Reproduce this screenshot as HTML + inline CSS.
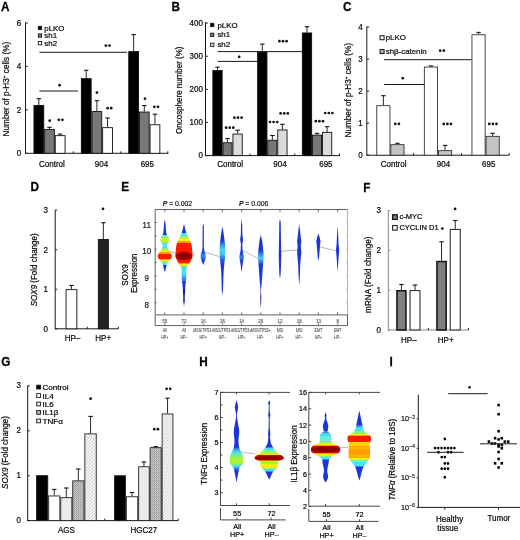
<!DOCTYPE html>
<html><head><meta charset="utf-8"><style>
html,body{margin:0;padding:0;background:#fff;}
svg{display:block;font-family:"Liberation Sans", sans-serif;will-change:transform;}
text{stroke:#111;stroke-width:0.22px;}
</style></head><body>
<svg width="520" height="540" viewBox="0 0 520 540">
<rect width="520" height="540" fill="#fff"/>
<defs>
<pattern id="dotL" width="2" height="2" patternUnits="userSpaceOnUse"><rect width="2" height="2" fill="#eeeeee"/><rect width="1" height="1" fill="#e0e0e0"/></pattern>
<pattern id="dotD" width="2" height="2" patternUnits="userSpaceOnUse"><rect width="2" height="2" fill="#c4c4c4"/><rect width="1" height="1" fill="#9a9a9a"/><rect x="1" y="1" width="1" height="1" fill="#b0b0b0"/></pattern>
<pattern id="hatch" width="2.4" height="2.4" patternUnits="userSpaceOnUse" patternTransform="rotate(45)"><rect width="2.4" height="2.4" fill="#f7f7f7"/><rect width="0.8" height="2.4" fill="#cdcdcd"/></pattern>
</defs>
<text transform="translate(0.90,10.80) scale(0.95,1)" font-size="12.4" font-weight="bold" fill="#000" style="stroke:#000;stroke-width:0.25px">A</text>
<line x1="25.50" y1="22.60" x2="25.50" y2="153.80" stroke="#1a1a1a" stroke-width="1"/>
<line x1="25.50" y1="153.30" x2="168.20" y2="153.30" stroke="#1a1a1a" stroke-width="1"/>
<line x1="25.50" y1="153.30" x2="27.80" y2="153.30" stroke="#1a1a1a" stroke-width="1"/>
<text transform="translate(21.20,156.15) scale(0.9259,1)" font-size="8.64" text-anchor="end" >0</text>
<line x1="25.50" y1="109.86" x2="27.80" y2="109.86" stroke="#1a1a1a" stroke-width="1"/>
<text transform="translate(21.20,112.71) scale(0.9259,1)" font-size="8.64" text-anchor="end" >2</text>
<line x1="25.50" y1="66.42" x2="27.80" y2="66.42" stroke="#1a1a1a" stroke-width="1"/>
<text transform="translate(21.20,69.27) scale(0.9259,1)" font-size="8.64" text-anchor="end" >4</text>
<line x1="25.50" y1="22.98" x2="27.80" y2="22.98" stroke="#1a1a1a" stroke-width="1"/>
<text transform="translate(21.20,25.83) scale(0.9259,1)" font-size="8.64" text-anchor="end" >6</text>
<line x1="73.30" y1="153.30" x2="73.30" y2="151.30" stroke="#1a1a1a" stroke-width="1"/>
<line x1="120.80" y1="153.30" x2="120.80" y2="151.30" stroke="#1a1a1a" stroke-width="1"/>
<line x1="167.80" y1="153.30" x2="167.80" y2="151.30" stroke="#1a1a1a" stroke-width="1"/>
<line x1="38.85" y1="105.00" x2="38.85" y2="98.70" stroke="#111" stroke-width="0.9"/>
<line x1="36.65" y1="98.70" x2="41.05" y2="98.70" stroke="#111" stroke-width="1.1"/>
<rect x="33.95" y="105.45" width="9.80" height="47.85" fill="#000" stroke="#111" stroke-width="0.9"/>
<line x1="49.50" y1="129.00" x2="49.50" y2="127.30" stroke="#111" stroke-width="0.9"/>
<line x1="47.30" y1="127.30" x2="51.70" y2="127.30" stroke="#111" stroke-width="1.1"/>
<rect x="44.65" y="129.45" width="9.70" height="23.85" fill="#787878" stroke="#111" stroke-width="0.9"/>
<line x1="60.15" y1="135.20" x2="60.15" y2="134.10" stroke="#111" stroke-width="0.9"/>
<line x1="57.95" y1="134.10" x2="62.35" y2="134.10" stroke="#111" stroke-width="1.1"/>
<rect x="55.25" y="135.65" width="9.80" height="17.65" fill="#fff" stroke="#111" stroke-width="0.9"/>
<line x1="86.25" y1="78.20" x2="86.25" y2="70.30" stroke="#111" stroke-width="0.9"/>
<line x1="84.05" y1="70.30" x2="88.45" y2="70.30" stroke="#111" stroke-width="1.1"/>
<rect x="81.35" y="78.65" width="9.80" height="74.65" fill="#000" stroke="#111" stroke-width="0.9"/>
<line x1="96.90" y1="111.10" x2="96.90" y2="100.70" stroke="#111" stroke-width="0.9"/>
<line x1="94.70" y1="100.70" x2="99.10" y2="100.70" stroke="#111" stroke-width="1.1"/>
<rect x="92.05" y="111.55" width="9.70" height="41.75" fill="#787878" stroke="#111" stroke-width="0.9"/>
<line x1="107.55" y1="127.20" x2="107.55" y2="118.00" stroke="#111" stroke-width="0.9"/>
<line x1="105.35" y1="118.00" x2="109.75" y2="118.00" stroke="#111" stroke-width="1.1"/>
<rect x="102.65" y="127.65" width="9.80" height="25.65" fill="#fff" stroke="#111" stroke-width="0.9"/>
<line x1="133.65" y1="51.10" x2="133.65" y2="34.60" stroke="#111" stroke-width="0.9"/>
<line x1="131.45" y1="34.60" x2="135.85" y2="34.60" stroke="#111" stroke-width="1.1"/>
<rect x="128.75" y="51.55" width="9.80" height="101.75" fill="#000" stroke="#111" stroke-width="0.9"/>
<line x1="144.30" y1="111.60" x2="144.30" y2="105.60" stroke="#111" stroke-width="0.9"/>
<line x1="142.10" y1="105.60" x2="146.50" y2="105.60" stroke="#111" stroke-width="1.1"/>
<rect x="139.45" y="112.05" width="9.70" height="41.25" fill="#787878" stroke="#111" stroke-width="0.9"/>
<line x1="154.95" y1="124.30" x2="154.95" y2="114.20" stroke="#111" stroke-width="0.9"/>
<line x1="152.75" y1="114.20" x2="157.15" y2="114.20" stroke="#111" stroke-width="1.1"/>
<rect x="150.05" y="124.75" width="9.80" height="28.55" fill="#fff" stroke="#111" stroke-width="0.9"/>
<text transform="translate(51.90,166.90) scale(0.9259,1)" font-size="8.64" text-anchor="middle" >Control</text>
<text transform="translate(101.50,166.90) scale(0.9259,1)" font-size="8.64" text-anchor="middle" >904</text>
<text transform="translate(147.30,166.90) scale(0.9259,1)" font-size="8.64" text-anchor="middle" >695</text>
<rect x="38.30" y="26.30" width="3.30" height="3.30" fill="#000" stroke="#1a1a1a" stroke-width="0.9"/>
<text transform="translate(44.30,30.50) scale(1.0000,1)" font-size="7.90" text-anchor="start" >pLKO</text>
<rect x="38.30" y="33.90" width="3.30" height="3.30" fill="#787878" stroke="#1a1a1a" stroke-width="0.9"/>
<text transform="translate(44.30,38.10) scale(1.0000,1)" font-size="7.90" text-anchor="start" >sh1</text>
<rect x="38.30" y="41.50" width="3.30" height="3.30" fill="#fff" stroke="#1a1a1a" stroke-width="0.9"/>
<text transform="translate(44.30,45.70) scale(1.0000,1)" font-size="7.90" text-anchor="start" >sh2</text>
<line x1="39.40" y1="52.30" x2="126.90" y2="52.30" stroke="#1a1a1a" stroke-width="1"/>
<circle cx="105.90" cy="45.60" r="1.35" fill="#111"/>
<circle cx="109.50" cy="45.60" r="1.35" fill="#111"/>
<line x1="39.40" y1="91.00" x2="77.90" y2="91.00" stroke="#1a1a1a" stroke-width="1"/>
<circle cx="59.60" cy="85.20" r="1.35" fill="#111"/>
<circle cx="49.70" cy="120.70" r="1.35" fill="#111"/>
<circle cx="58.80" cy="119.80" r="1.35" fill="#111"/>
<circle cx="62.40" cy="119.80" r="1.35" fill="#111"/>
<circle cx="96.90" cy="92.60" r="1.35" fill="#111"/>
<circle cx="107.60" cy="108.20" r="1.35" fill="#111"/>
<circle cx="111.20" cy="108.20" r="1.35" fill="#111"/>
<circle cx="145.00" cy="98.70" r="1.35" fill="#111"/>
<circle cx="154.40" cy="106.80" r="1.35" fill="#111"/>
<circle cx="158.00" cy="106.80" r="1.35" fill="#111"/>
<text transform="translate(8.60,89.10) rotate(-90) scale(0.9259,1)" font-size="8.86" text-anchor="middle" >Number of p-H3<tspan font-size="5" dy="-2.6">+</tspan><tspan dy="2.6"> cells (%)</tspan></text>
<text transform="translate(171.44,10.60) scale(0.95,1)" font-size="12.4" font-weight="bold" fill="#000" style="stroke:#000;stroke-width:0.25px">B</text>
<line x1="205.50" y1="22.10" x2="205.50" y2="156.10" stroke="#1a1a1a" stroke-width="1"/>
<line x1="205.50" y1="155.60" x2="340.00" y2="155.60" stroke="#1a1a1a" stroke-width="1"/>
<line x1="205.50" y1="155.60" x2="207.80" y2="155.60" stroke="#1a1a1a" stroke-width="1"/>
<text transform="translate(202.90,158.45) scale(0.9259,1)" font-size="8.64" text-anchor="end" >0</text>
<line x1="205.50" y1="122.47" x2="207.80" y2="122.47" stroke="#1a1a1a" stroke-width="1"/>
<text transform="translate(202.90,125.32) scale(0.9259,1)" font-size="8.64" text-anchor="end" >100</text>
<line x1="205.50" y1="89.34" x2="207.80" y2="89.34" stroke="#1a1a1a" stroke-width="1"/>
<text transform="translate(202.90,92.19) scale(0.9259,1)" font-size="8.64" text-anchor="end" >200</text>
<line x1="205.50" y1="56.21" x2="207.80" y2="56.21" stroke="#1a1a1a" stroke-width="1"/>
<text transform="translate(202.90,59.06) scale(0.9259,1)" font-size="8.64" text-anchor="end" >300</text>
<line x1="205.50" y1="23.08" x2="207.80" y2="23.08" stroke="#1a1a1a" stroke-width="1"/>
<text transform="translate(202.90,25.93) scale(0.9259,1)" font-size="8.64" text-anchor="end" >400</text>
<line x1="250.00" y1="155.60" x2="250.00" y2="153.60" stroke="#1a1a1a" stroke-width="1"/>
<line x1="294.70" y1="155.60" x2="294.70" y2="153.60" stroke="#1a1a1a" stroke-width="1"/>
<line x1="339.50" y1="155.60" x2="339.50" y2="153.60" stroke="#1a1a1a" stroke-width="1"/>
<line x1="217.50" y1="70.10" x2="217.50" y2="67.20" stroke="#111" stroke-width="0.9"/>
<line x1="215.30" y1="67.20" x2="219.70" y2="67.20" stroke="#111" stroke-width="1.1"/>
<rect x="212.85" y="70.55" width="9.30" height="85.05" fill="#000" stroke="#111" stroke-width="0.9"/>
<line x1="227.55" y1="142.30" x2="227.55" y2="138.50" stroke="#111" stroke-width="0.9"/>
<line x1="225.35" y1="138.50" x2="229.75" y2="138.50" stroke="#111" stroke-width="1.1"/>
<rect x="223.05" y="142.75" width="9.00" height="12.85" fill="#777" stroke="#111" stroke-width="0.9"/>
<line x1="237.60" y1="133.60" x2="237.60" y2="130.20" stroke="#111" stroke-width="0.9"/>
<line x1="235.40" y1="130.20" x2="239.80" y2="130.20" stroke="#111" stroke-width="1.1"/>
<rect x="232.95" y="134.05" width="9.30" height="21.55" fill="#dcdcdc" stroke="#111" stroke-width="0.9"/>
<line x1="262.30" y1="51.60" x2="262.30" y2="44.10" stroke="#111" stroke-width="0.9"/>
<line x1="260.10" y1="44.10" x2="264.50" y2="44.10" stroke="#111" stroke-width="1.1"/>
<rect x="257.65" y="52.05" width="9.30" height="103.55" fill="#000" stroke="#111" stroke-width="0.9"/>
<line x1="272.35" y1="139.80" x2="272.35" y2="135.50" stroke="#111" stroke-width="0.9"/>
<line x1="270.15" y1="135.50" x2="274.55" y2="135.50" stroke="#111" stroke-width="1.1"/>
<rect x="267.85" y="140.25" width="9.00" height="15.35" fill="#777" stroke="#111" stroke-width="0.9"/>
<line x1="282.40" y1="129.50" x2="282.40" y2="124.30" stroke="#111" stroke-width="0.9"/>
<line x1="280.20" y1="124.30" x2="284.60" y2="124.30" stroke="#111" stroke-width="1.1"/>
<rect x="277.75" y="129.95" width="9.30" height="25.65" fill="#dcdcdc" stroke="#111" stroke-width="0.9"/>
<line x1="307.00" y1="32.50" x2="307.00" y2="26.80" stroke="#111" stroke-width="0.9"/>
<line x1="304.80" y1="26.80" x2="309.20" y2="26.80" stroke="#111" stroke-width="1.1"/>
<rect x="302.35" y="32.95" width="9.30" height="122.65" fill="#000" stroke="#111" stroke-width="0.9"/>
<line x1="317.05" y1="134.70" x2="317.05" y2="133.30" stroke="#111" stroke-width="0.9"/>
<line x1="314.85" y1="133.30" x2="319.25" y2="133.30" stroke="#111" stroke-width="1.1"/>
<rect x="312.55" y="135.15" width="9.00" height="20.45" fill="#777" stroke="#111" stroke-width="0.9"/>
<line x1="327.10" y1="131.90" x2="327.10" y2="126.70" stroke="#111" stroke-width="0.9"/>
<line x1="324.90" y1="126.70" x2="329.30" y2="126.70" stroke="#111" stroke-width="1.1"/>
<rect x="322.45" y="132.35" width="9.30" height="23.25" fill="#dcdcdc" stroke="#111" stroke-width="0.9"/>
<text transform="translate(230.10,167.10) scale(0.9259,1)" font-size="8.64" text-anchor="middle" >Control</text>
<text transform="translate(280.00,167.10) scale(0.9259,1)" font-size="8.64" text-anchor="middle" >904</text>
<text transform="translate(325.90,167.10) scale(0.9259,1)" font-size="8.64" text-anchor="middle" >695</text>
<rect x="210.60" y="23.30" width="3.30" height="3.30" fill="#000" stroke="#1a1a1a" stroke-width="0.9"/>
<text transform="translate(217.40,27.50) scale(1.0000,1)" font-size="7.90" text-anchor="start" >pLKO</text>
<rect x="210.60" y="33.20" width="3.30" height="3.30" fill="#777" stroke="#1a1a1a" stroke-width="0.9"/>
<text transform="translate(217.40,37.40) scale(1.0000,1)" font-size="7.90" text-anchor="start" >sh1</text>
<rect x="210.60" y="43.10" width="3.30" height="3.30" fill="#dcdcdc" stroke="#1a1a1a" stroke-width="0.9"/>
<text transform="translate(217.40,47.30) scale(1.0000,1)" font-size="7.90" text-anchor="start" >sh2</text>
<line x1="217.60" y1="51.60" x2="301.90" y2="51.60" stroke="#1a1a1a" stroke-width="1"/>
<circle cx="279.40" cy="41.20" r="1.35" fill="#111"/>
<circle cx="283.00" cy="41.20" r="1.35" fill="#111"/>
<circle cx="286.60" cy="41.20" r="1.35" fill="#111"/>
<line x1="217.60" y1="61.40" x2="257.40" y2="61.40" stroke="#1a1a1a" stroke-width="1"/>
<circle cx="239.20" cy="56.80" r="1.35" fill="#111"/>
<circle cx="226.10" cy="127.70" r="1.35" fill="#111"/>
<circle cx="229.70" cy="127.70" r="1.35" fill="#111"/>
<circle cx="233.30" cy="127.70" r="1.35" fill="#111"/>
<circle cx="234.40" cy="117.70" r="1.35" fill="#111"/>
<circle cx="238.00" cy="117.70" r="1.35" fill="#111"/>
<circle cx="241.60" cy="117.70" r="1.35" fill="#111"/>
<circle cx="270.00" cy="122.00" r="1.35" fill="#111"/>
<circle cx="273.60" cy="122.00" r="1.35" fill="#111"/>
<circle cx="277.20" cy="122.00" r="1.35" fill="#111"/>
<circle cx="280.60" cy="113.40" r="1.35" fill="#111"/>
<circle cx="284.20" cy="113.40" r="1.35" fill="#111"/>
<circle cx="287.80" cy="113.40" r="1.35" fill="#111"/>
<circle cx="315.80" cy="121.20" r="1.35" fill="#111"/>
<circle cx="319.40" cy="121.20" r="1.35" fill="#111"/>
<circle cx="323.00" cy="121.20" r="1.35" fill="#111"/>
<circle cx="325.20" cy="113.00" r="1.35" fill="#111"/>
<circle cx="328.80" cy="113.00" r="1.35" fill="#111"/>
<circle cx="332.40" cy="113.00" r="1.35" fill="#111"/>
<text transform="translate(182.30,90.20) rotate(-90) scale(0.9259,1)" font-size="8.64" text-anchor="middle" >Oncosphere number (%)</text>
<text transform="translate(343.07,10.80) scale(0.95,1)" font-size="12.4" font-weight="bold" fill="#000" style="stroke:#000;stroke-width:0.25px">C</text>
<line x1="366.80" y1="26.60" x2="366.80" y2="155.70" stroke="#1a1a1a" stroke-width="1"/>
<line x1="366.80" y1="155.20" x2="509.30" y2="155.20" stroke="#1a1a1a" stroke-width="1"/>
<line x1="366.80" y1="155.20" x2="369.10" y2="155.20" stroke="#1a1a1a" stroke-width="1"/>
<text transform="translate(362.80,158.05) scale(0.9259,1)" font-size="8.64" text-anchor="end" >0</text>
<line x1="366.80" y1="123.15" x2="369.10" y2="123.15" stroke="#1a1a1a" stroke-width="1"/>
<text transform="translate(362.80,126.00) scale(0.9259,1)" font-size="8.64" text-anchor="end" >1</text>
<line x1="366.80" y1="91.10" x2="369.10" y2="91.10" stroke="#1a1a1a" stroke-width="1"/>
<text transform="translate(362.80,93.95) scale(0.9259,1)" font-size="8.64" text-anchor="end" >2</text>
<line x1="366.80" y1="59.05" x2="369.10" y2="59.05" stroke="#1a1a1a" stroke-width="1"/>
<text transform="translate(362.80,61.90) scale(0.9259,1)" font-size="8.64" text-anchor="end" >3</text>
<line x1="366.80" y1="27.00" x2="369.10" y2="27.00" stroke="#1a1a1a" stroke-width="1"/>
<text transform="translate(362.80,29.85) scale(0.9259,1)" font-size="8.64" text-anchor="end" >4</text>
<line x1="413.60" y1="155.20" x2="413.60" y2="153.20" stroke="#1a1a1a" stroke-width="1"/>
<line x1="461.50" y1="155.20" x2="461.50" y2="153.20" stroke="#1a1a1a" stroke-width="1"/>
<line x1="509.30" y1="155.20" x2="509.30" y2="153.20" stroke="#1a1a1a" stroke-width="1"/>
<line x1="383.35" y1="105.20" x2="383.35" y2="95.70" stroke="#111" stroke-width="0.9"/>
<line x1="381.15" y1="95.70" x2="385.55" y2="95.70" stroke="#111" stroke-width="1.1"/>
<rect x="376.75" y="105.65" width="13.20" height="49.55" fill="#fff" stroke="#333" stroke-width="0.9"/>
<line x1="397.45" y1="144.20" x2="397.45" y2="143.30" stroke="#111" stroke-width="0.9"/>
<line x1="395.25" y1="143.30" x2="399.65" y2="143.30" stroke="#111" stroke-width="1.1"/>
<rect x="390.85" y="144.65" width="13.20" height="10.55" fill="#c4c4c4" stroke="#333" stroke-width="0.9"/>
<line x1="430.95" y1="66.60" x2="430.95" y2="65.90" stroke="#111" stroke-width="0.9"/>
<line x1="428.75" y1="65.90" x2="433.15" y2="65.90" stroke="#111" stroke-width="1.1"/>
<rect x="424.35" y="67.05" width="13.20" height="88.15" fill="#fff" stroke="#333" stroke-width="0.9"/>
<line x1="445.05" y1="150.20" x2="445.05" y2="145.40" stroke="#111" stroke-width="0.9"/>
<line x1="442.85" y1="145.40" x2="447.25" y2="145.40" stroke="#111" stroke-width="1.1"/>
<rect x="438.45" y="150.65" width="13.20" height="4.55" fill="#c4c4c4" stroke="#333" stroke-width="0.9"/>
<line x1="478.55" y1="34.30" x2="478.55" y2="32.40" stroke="#111" stroke-width="0.9"/>
<line x1="476.35" y1="32.40" x2="480.75" y2="32.40" stroke="#111" stroke-width="1.1"/>
<rect x="471.95" y="34.75" width="13.20" height="120.45" fill="#fff" stroke="#333" stroke-width="0.9"/>
<line x1="492.65" y1="135.90" x2="492.65" y2="133.30" stroke="#111" stroke-width="0.9"/>
<line x1="490.45" y1="133.30" x2="494.85" y2="133.30" stroke="#111" stroke-width="1.1"/>
<rect x="486.05" y="136.35" width="13.20" height="18.85" fill="#c4c4c4" stroke="#333" stroke-width="0.9"/>
<text transform="translate(393.60,167.00) scale(0.9259,1)" font-size="8.64" text-anchor="middle" >Control</text>
<text transform="translate(443.50,167.00) scale(0.9259,1)" font-size="8.64" text-anchor="middle" >904</text>
<text transform="translate(488.70,167.00) scale(0.9259,1)" font-size="8.64" text-anchor="middle" >695</text>
<rect x="380.10" y="35.70" width="4.00" height="4.00" fill="#fff" stroke="#222" stroke-width="1.1"/>
<text transform="translate(385.70,40.30) scale(1.0000,1)" font-size="7.90" text-anchor="start" >pLKO</text>
<rect x="380.10" y="49.50" width="4.00" height="4.00" fill="#b8b8b8" stroke="#222" stroke-width="1.1"/>
<text transform="translate(385.70,54.10) scale(1.0000,1)" font-size="7.90" text-anchor="start" >sh&#946;-catenin</text>
<line x1="384.10" y1="59.70" x2="471.50" y2="59.70" stroke="#1a1a1a" stroke-width="1"/>
<circle cx="440.20" cy="50.70" r="1.35" fill="#111"/>
<circle cx="443.80" cy="50.70" r="1.35" fill="#111"/>
<line x1="384.10" y1="84.50" x2="424.30" y2="84.50" stroke="#1a1a1a" stroke-width="1"/>
<circle cx="402.70" cy="78.20" r="1.35" fill="#111"/>
<circle cx="395.30" cy="123.90" r="1.35" fill="#111"/>
<circle cx="398.90" cy="123.90" r="1.35" fill="#111"/>
<circle cx="443.80" cy="123.90" r="1.35" fill="#111"/>
<circle cx="447.40" cy="123.90" r="1.35" fill="#111"/>
<circle cx="451.00" cy="123.90" r="1.35" fill="#111"/>
<circle cx="489.30" cy="123.90" r="1.35" fill="#111"/>
<circle cx="492.90" cy="123.90" r="1.35" fill="#111"/>
<circle cx="496.50" cy="123.90" r="1.35" fill="#111"/>
<text transform="translate(350.80,90.20) rotate(-90) scale(0.9259,1)" font-size="8.86" text-anchor="middle" >Number of p-H3<tspan font-size="5" dy="-2.6">+</tspan><tspan dy="2.6"> cells (%)</tspan></text>
<text transform="translate(30.44,191.30) scale(0.95,1)" font-size="12.4" font-weight="bold" fill="#000" style="stroke:#000;stroke-width:0.25px">D</text>
<line x1="55.20" y1="209.90" x2="55.20" y2="329.30" stroke="#1a1a1a" stroke-width="1"/>
<line x1="55.20" y1="328.80" x2="118.50" y2="328.80" stroke="#1a1a1a" stroke-width="1"/>
<line x1="55.20" y1="328.80" x2="57.20" y2="328.80" stroke="#1a1a1a" stroke-width="1"/>
<text transform="translate(48.00,331.65) scale(0.9259,1)" font-size="8.64" text-anchor="end" >0</text>
<line x1="55.20" y1="289.25" x2="57.20" y2="289.25" stroke="#1a1a1a" stroke-width="1"/>
<text transform="translate(48.00,292.10) scale(0.9259,1)" font-size="8.64" text-anchor="end" >1</text>
<line x1="55.20" y1="249.70" x2="57.20" y2="249.70" stroke="#1a1a1a" stroke-width="1"/>
<text transform="translate(48.00,252.55) scale(0.9259,1)" font-size="8.64" text-anchor="end" >2</text>
<line x1="55.20" y1="210.15" x2="57.20" y2="210.15" stroke="#1a1a1a" stroke-width="1"/>
<text transform="translate(48.00,213.00) scale(0.9259,1)" font-size="8.64" text-anchor="end" >3</text>
<line x1="87.30" y1="328.80" x2="87.30" y2="326.80" stroke="#1a1a1a" stroke-width="1"/>
<line x1="118.40" y1="328.80" x2="118.40" y2="326.80" stroke="#1a1a1a" stroke-width="1"/>
<line x1="71.45" y1="289.20" x2="71.45" y2="285.40" stroke="#111" stroke-width="0.9"/>
<line x1="69.25" y1="285.40" x2="73.65" y2="285.40" stroke="#111" stroke-width="1.1"/>
<rect x="66.05" y="289.65" width="10.80" height="39.15" fill="#fff" stroke="#111" stroke-width="0.9"/>
<line x1="103.35" y1="239.00" x2="103.35" y2="222.70" stroke="#111" stroke-width="0.9"/>
<line x1="101.15" y1="222.70" x2="105.55" y2="222.70" stroke="#111" stroke-width="1.1"/>
<rect x="98.35" y="239.45" width="10.00" height="89.35" fill="#222" stroke="#111" stroke-width="0.9"/>
<circle cx="103.00" cy="208.80" r="1.35" fill="#111"/>
<text transform="translate(72.50,340.90) scale(0.9259,1)" font-size="8.64" text-anchor="middle" >HP&#8211;</text>
<text transform="translate(103.20,340.90) scale(0.9259,1)" font-size="8.64" text-anchor="middle" >HP+</text>
<text transform="translate(37.00,269.80) rotate(-90) scale(0.9259,1)" font-size="8.64" text-anchor="middle" ><tspan font-style="italic">SOX9</tspan> (Fold change)</text>
<text transform="translate(363.34,191.60) scale(0.95,1)" font-size="12.4" font-weight="bold" fill="#000" style="stroke:#000;stroke-width:0.25px">F</text>
<line x1="388.30" y1="209.90" x2="388.30" y2="330.50" stroke="#8a8a8a" stroke-width="1"/>
<line x1="388.30" y1="330.00" x2="468.50" y2="330.00" stroke="#8a8a8a" stroke-width="1"/>
<line x1="388.30" y1="330.00" x2="390.30" y2="330.00" stroke="#8a8a8a" stroke-width="1"/>
<text transform="translate(381.00,332.85) scale(0.9259,1)" font-size="8.64" text-anchor="end" >0</text>
<line x1="388.30" y1="290.20" x2="390.30" y2="290.20" stroke="#8a8a8a" stroke-width="1"/>
<text transform="translate(381.00,293.05) scale(0.9259,1)" font-size="8.64" text-anchor="end" >1</text>
<line x1="388.30" y1="250.40" x2="390.30" y2="250.40" stroke="#8a8a8a" stroke-width="1"/>
<text transform="translate(381.00,253.25) scale(0.9259,1)" font-size="8.64" text-anchor="end" >2</text>
<line x1="388.30" y1="210.60" x2="390.30" y2="210.60" stroke="#8a8a8a" stroke-width="1"/>
<text transform="translate(381.00,213.45) scale(0.9259,1)" font-size="8.64" text-anchor="end" >3</text>
<line x1="428.30" y1="330.00" x2="428.30" y2="328.00" stroke="#1a1a1a" stroke-width="1"/>
<line x1="468.40" y1="330.00" x2="468.40" y2="328.00" stroke="#1a1a1a" stroke-width="1"/>
<line x1="401.45" y1="290.00" x2="401.45" y2="284.50" stroke="#111" stroke-width="0.9"/>
<line x1="399.25" y1="284.50" x2="403.65" y2="284.50" stroke="#111" stroke-width="1.1"/>
<rect x="396.95" y="290.75" width="9.00" height="39.25" fill="#808080" stroke="#111" stroke-width="1.5"/>
<line x1="415.00" y1="290.00" x2="415.00" y2="285.00" stroke="#111" stroke-width="0.9"/>
<line x1="412.80" y1="285.00" x2="417.20" y2="285.00" stroke="#111" stroke-width="1.1"/>
<rect x="410.05" y="290.55" width="9.90" height="39.45" fill="#fff" stroke="#333" stroke-width="1.1"/>
<line x1="441.55" y1="260.80" x2="441.55" y2="241.80" stroke="#111" stroke-width="0.9"/>
<line x1="439.35" y1="241.80" x2="443.75" y2="241.80" stroke="#111" stroke-width="1.1"/>
<rect x="436.95" y="261.55" width="9.20" height="68.45" fill="#808080" stroke="#111" stroke-width="1.5"/>
<line x1="455.25" y1="228.90" x2="455.25" y2="220.50" stroke="#111" stroke-width="0.9"/>
<line x1="453.05" y1="220.50" x2="457.45" y2="220.50" stroke="#111" stroke-width="1.1"/>
<rect x="450.25" y="229.45" width="10.00" height="100.55" fill="#fff" stroke="#333" stroke-width="1.1"/>
<circle cx="442.30" cy="228.50" r="1.35" fill="#111"/>
<circle cx="455.10" cy="208.90" r="1.35" fill="#111"/>
<rect x="392.60" y="214.80" width="4.60" height="4.60" fill="#808080" stroke="#111" stroke-width="1.3"/>
<rect x="392.60" y="225.50" width="4.60" height="4.60" fill="#fff" stroke="#222" stroke-width="1.1"/>
<text transform="translate(399.40,219.10) scale(1.0000,1)" font-size="7.50" text-anchor="start" >c-MYC</text>
<text transform="translate(399.40,230.10) scale(1.0000,1)" font-size="7.50" text-anchor="start" >CYCLIN D1</text>
<text transform="translate(408.80,343.30) scale(0.9259,1)" font-size="8.64" text-anchor="middle" >HP&#8211;</text>
<text transform="translate(445.70,343.30) scale(0.9259,1)" font-size="8.64" text-anchor="middle" >HP+</text>
<text transform="translate(371.00,274.70) rotate(-90) scale(0.9259,1)" font-size="8.86" text-anchor="middle" >mRNA (Fold change)</text>
<text transform="translate(1.28,366.00) scale(0.95,1)" font-size="12.4" font-weight="bold" fill="#000" style="stroke:#000;stroke-width:0.25px">G</text>
<line x1="27.70" y1="385.50" x2="27.70" y2="521.10" stroke="#1a1a1a" stroke-width="1"/>
<line x1="27.70" y1="520.60" x2="178.30" y2="520.60" stroke="#1a1a1a" stroke-width="1"/>
<line x1="27.70" y1="520.60" x2="29.70" y2="520.60" stroke="#1a1a1a" stroke-width="1"/>
<text transform="translate(21.00,522.70) scale(0.9259,1)" font-size="8.64" text-anchor="end" >0</text>
<line x1="27.70" y1="475.70" x2="29.70" y2="475.70" stroke="#1a1a1a" stroke-width="1"/>
<text transform="translate(21.00,477.80) scale(0.9259,1)" font-size="8.64" text-anchor="end" >1</text>
<line x1="27.70" y1="430.80" x2="29.70" y2="430.80" stroke="#1a1a1a" stroke-width="1"/>
<text transform="translate(21.00,432.90) scale(0.9259,1)" font-size="8.64" text-anchor="end" >2</text>
<line x1="27.70" y1="385.90" x2="29.70" y2="385.90" stroke="#1a1a1a" stroke-width="1"/>
<text transform="translate(21.00,388.00) scale(0.9259,1)" font-size="8.64" text-anchor="end" >3</text>
<line x1="104.80" y1="520.60" x2="104.80" y2="518.60" stroke="#1a1a1a" stroke-width="1"/>
<line x1="178.20" y1="520.60" x2="178.20" y2="518.60" stroke="#1a1a1a" stroke-width="1"/>
<rect x="36.55" y="475.65" width="11.20" height="44.95" fill="#000" stroke="#222" stroke-width="0.9"/>
<line x1="54.25" y1="495.50" x2="54.25" y2="489.40" stroke="#111" stroke-width="0.9"/>
<line x1="52.05" y1="489.40" x2="56.45" y2="489.40" stroke="#111" stroke-width="1.1"/>
<rect x="48.65" y="495.95" width="11.20" height="24.65" fill="#fff" stroke="#222" stroke-width="0.9"/>
<line x1="66.30" y1="497.20" x2="66.30" y2="488.00" stroke="#111" stroke-width="0.9"/>
<line x1="64.10" y1="488.00" x2="68.50" y2="488.00" stroke="#111" stroke-width="1.1"/>
<rect x="60.75" y="497.65" width="11.10" height="22.95" fill="url(#dotL)" stroke="#222" stroke-width="0.9"/>
<line x1="78.35" y1="480.40" x2="78.35" y2="469.00" stroke="#111" stroke-width="0.9"/>
<line x1="76.15" y1="469.00" x2="80.55" y2="469.00" stroke="#111" stroke-width="1.1"/>
<rect x="72.75" y="480.85" width="11.20" height="39.75" fill="url(#dotD)" stroke="#222" stroke-width="0.9"/>
<line x1="90.55" y1="433.40" x2="90.55" y2="416.40" stroke="#111" stroke-width="0.9"/>
<line x1="88.35" y1="416.40" x2="92.75" y2="416.40" stroke="#111" stroke-width="1.1"/>
<rect x="84.85" y="433.85" width="11.40" height="86.75" fill="url(#hatch)" stroke="#222" stroke-width="0.9"/>
<rect x="114.55" y="475.75" width="10.90" height="44.85" fill="#000" stroke="#222" stroke-width="0.9"/>
<line x1="132.05" y1="496.30" x2="132.05" y2="492.50" stroke="#111" stroke-width="0.9"/>
<line x1="129.85" y1="492.50" x2="134.25" y2="492.50" stroke="#111" stroke-width="1.1"/>
<rect x="126.35" y="496.75" width="11.40" height="23.85" fill="#fff" stroke="#222" stroke-width="0.9"/>
<line x1="143.95" y1="466.30" x2="143.95" y2="462.00" stroke="#111" stroke-width="0.9"/>
<line x1="141.75" y1="462.00" x2="146.15" y2="462.00" stroke="#111" stroke-width="1.1"/>
<rect x="138.65" y="466.75" width="10.60" height="53.85" fill="url(#dotL)" stroke="#222" stroke-width="0.9"/>
<line x1="155.70" y1="447.20" x2="155.70" y2="446.60" stroke="#111" stroke-width="0.9"/>
<line x1="153.50" y1="446.60" x2="157.90" y2="446.60" stroke="#111" stroke-width="1.1"/>
<rect x="150.15" y="447.65" width="11.10" height="72.95" fill="url(#dotD)" stroke="#222" stroke-width="0.9"/>
<line x1="167.55" y1="413.50" x2="167.55" y2="398.20" stroke="#111" stroke-width="0.9"/>
<line x1="165.35" y1="398.20" x2="169.75" y2="398.20" stroke="#111" stroke-width="1.1"/>
<rect x="162.15" y="413.95" width="10.80" height="106.65" fill="url(#hatch)" stroke="#222" stroke-width="0.9"/>
<circle cx="90.60" cy="398.70" r="1.35" fill="#111"/>
<circle cx="154.30" cy="429.20" r="1.35" fill="#111"/>
<circle cx="157.90" cy="429.20" r="1.35" fill="#111"/>
<circle cx="166.60" cy="388.80" r="1.35" fill="#111"/>
<circle cx="170.20" cy="388.80" r="1.35" fill="#111"/>
<rect x="36.70" y="385.20" width="3.80" height="3.80" fill="#000" stroke="#1a1a1a" stroke-width="0.9"/>
<text transform="translate(42.50,390.05) scale(1.0000,1)" font-size="8.10" text-anchor="start" >Control</text>
<rect x="36.70" y="393.65" width="3.80" height="3.80" fill="#fff" stroke="#1a1a1a" stroke-width="0.9"/>
<text transform="translate(42.50,398.50) scale(1.0000,1)" font-size="8.10" text-anchor="start" >IL4</text>
<rect x="36.70" y="402.10" width="3.80" height="3.80" fill="url(#dotL)" stroke="#1a1a1a" stroke-width="0.9"/>
<text transform="translate(42.50,406.95) scale(1.0000,1)" font-size="8.10" text-anchor="start" >IL6</text>
<rect x="36.70" y="410.55" width="3.80" height="3.80" fill="url(#dotD)" stroke="#1a1a1a" stroke-width="0.9"/>
<text transform="translate(42.50,415.40) scale(1.0000,1)" font-size="8.10" text-anchor="start" >IL1&#946;</text>
<rect x="36.70" y="419.00" width="3.80" height="3.80" fill="url(#hatch)" stroke="#1a1a1a" stroke-width="0.9"/>
<text transform="translate(42.50,423.85) scale(1.0000,1)" font-size="8.10" text-anchor="start" >TNF&#945;</text>
<text transform="translate(66.40,532.90) scale(0.9259,1)" font-size="8.64" text-anchor="middle" >AGS</text>
<text transform="translate(143.80,532.90) scale(0.9259,1)" font-size="8.64" text-anchor="middle" >HGC27</text>
<text transform="translate(7.80,452.50) rotate(-90) scale(0.9259,1)" font-size="8.64" text-anchor="middle" ><tspan font-style="italic">SOX9</tspan> (Fold change)</text>
<text transform="translate(389.45,366.00) scale(0.95,1)" font-size="12.4" font-weight="bold" fill="#000" style="stroke:#000;stroke-width:0.25px">I</text>
<line x1="418.30" y1="394.60" x2="418.30" y2="507.90" stroke="#1a1a1a" stroke-width="1"/>
<line x1="418.30" y1="507.40" x2="520.00" y2="507.40" stroke="#1a1a1a" stroke-width="1"/>
<line x1="416.70" y1="418.81" x2="418.30" y2="418.81" stroke="#1a1a1a" stroke-width="1"/>
<text transform="translate(408.90,421.31) scale(0.9259,1)" font-size="7.78" text-anchor="end" >10</text>
<text transform="translate(408.90,418.61) scale(0.9524,1)" font-size="5.67" text-anchor="start" style="stroke-width:0.1px">&#8722;3</text>
<line x1="416.70" y1="448.34" x2="418.30" y2="448.34" stroke="#1a1a1a" stroke-width="1"/>
<text transform="translate(408.90,450.84) scale(0.9259,1)" font-size="7.78" text-anchor="end" >10</text>
<text transform="translate(408.90,448.14) scale(0.9524,1)" font-size="5.67" text-anchor="start" style="stroke-width:0.1px">&#8722;4</text>
<line x1="416.70" y1="477.87" x2="418.30" y2="477.87" stroke="#1a1a1a" stroke-width="1"/>
<text transform="translate(408.90,480.37) scale(0.9259,1)" font-size="7.78" text-anchor="end" >10</text>
<text transform="translate(408.90,477.67) scale(0.9524,1)" font-size="5.67" text-anchor="start" style="stroke-width:0.1px">&#8722;5</text>
<line x1="416.70" y1="507.40" x2="418.30" y2="507.40" stroke="#1a1a1a" stroke-width="1"/>
<text transform="translate(408.90,509.90) scale(0.9259,1)" font-size="7.78" text-anchor="end" >10</text>
<text transform="translate(408.90,507.20) scale(0.9524,1)" font-size="5.67" text-anchor="start" style="stroke-width:0.1px">&#8722;6</text>
<line x1="444.80" y1="507.40" x2="444.80" y2="509.60" stroke="#1a1a1a" stroke-width="1"/>
<line x1="498.50" y1="507.40" x2="498.50" y2="509.60" stroke="#1a1a1a" stroke-width="1"/>
<line x1="448.20" y1="393.70" x2="487.50" y2="393.70" stroke="#1a1a1a" stroke-width="1"/>
<circle cx="469.50" cy="387.30" r="1.35" fill="#111"/>
<ellipse cx="444.80" cy="439.00" rx="1.3" ry="1.45" fill="#000"/>
<ellipse cx="435.00" cy="448.10" rx="1.3" ry="1.45" fill="#000"/>
<ellipse cx="438.20" cy="448.10" rx="1.3" ry="1.45" fill="#000"/>
<ellipse cx="441.50" cy="448.10" rx="1.3" ry="1.45" fill="#000"/>
<ellipse cx="444.80" cy="448.10" rx="1.3" ry="1.45" fill="#000"/>
<ellipse cx="448.00" cy="448.10" rx="1.3" ry="1.45" fill="#000"/>
<ellipse cx="451.20" cy="448.10" rx="1.3" ry="1.45" fill="#000"/>
<ellipse cx="454.40" cy="448.10" rx="1.3" ry="1.45" fill="#000"/>
<ellipse cx="438.50" cy="452.30" rx="1.3" ry="1.45" fill="#000"/>
<ellipse cx="448.00" cy="452.30" rx="1.3" ry="1.45" fill="#000"/>
<ellipse cx="451.20" cy="452.30" rx="1.3" ry="1.45" fill="#000"/>
<ellipse cx="441.70" cy="457.10" rx="1.3" ry="1.45" fill="#000"/>
<ellipse cx="444.80" cy="457.10" rx="1.3" ry="1.45" fill="#000"/>
<ellipse cx="444.80" cy="463.50" rx="1.3" ry="1.45" fill="#000"/>
<ellipse cx="448.00" cy="463.50" rx="1.3" ry="1.45" fill="#000"/>
<ellipse cx="441.70" cy="468.70" rx="1.3" ry="1.45" fill="#000"/>
<ellipse cx="444.80" cy="468.70" rx="1.3" ry="1.45" fill="#000"/>
<ellipse cx="448.00" cy="468.70" rx="1.3" ry="1.45" fill="#000"/>
<ellipse cx="444.80" cy="477.30" rx="1.3" ry="1.45" fill="#000"/>
<line x1="427.20" y1="452.30" x2="463.60" y2="452.30" stroke="#1a1a1a" stroke-width="1"/>
<rect x="497.35" y="403.80" width="2.50" height="2.60" fill="#000"/>
<rect x="497.35" y="412.90" width="2.50" height="2.60" fill="#000"/>
<rect x="497.35" y="429.90" width="2.50" height="2.60" fill="#000"/>
<rect x="493.85" y="436.90" width="2.50" height="2.60" fill="#000"/>
<rect x="500.55" y="436.90" width="2.50" height="2.60" fill="#000"/>
<rect x="497.35" y="438.10" width="2.50" height="2.60" fill="#000"/>
<rect x="487.65" y="440.30" width="2.50" height="2.60" fill="#000"/>
<rect x="503.55" y="440.30" width="2.50" height="2.60" fill="#000"/>
<rect x="506.95" y="440.30" width="2.50" height="2.60" fill="#000"/>
<rect x="490.65" y="442.20" width="2.50" height="2.60" fill="#000"/>
<rect x="493.65" y="442.20" width="2.50" height="2.60" fill="#000"/>
<rect x="497.35" y="443.70" width="2.50" height="2.60" fill="#000"/>
<rect x="500.55" y="443.70" width="2.50" height="2.60" fill="#000"/>
<rect x="497.35" y="445.20" width="2.50" height="2.60" fill="#000"/>
<rect x="500.55" y="447.00" width="2.50" height="2.60" fill="#000"/>
<rect x="497.35" y="450.70" width="2.50" height="2.60" fill="#000"/>
<rect x="497.35" y="457.60" width="2.50" height="2.60" fill="#000"/>
<rect x="493.85" y="462.00" width="2.50" height="2.60" fill="#000"/>
<rect x="500.55" y="462.00" width="2.50" height="2.60" fill="#000"/>
<rect x="497.35" y="466.20" width="2.50" height="2.60" fill="#000"/>
<line x1="480.00" y1="443.80" x2="517.00" y2="443.80" stroke="#1a1a1a" stroke-width="1"/>
<text transform="translate(449.60,521.80) scale(0.9259,1)" font-size="8.64" text-anchor="middle" >Healthy</text>
<text transform="translate(447.80,530.60) scale(0.9259,1)" font-size="8.64" text-anchor="middle" >tissue</text>
<text transform="translate(498.90,521.00) scale(0.9259,1)" font-size="8.64" text-anchor="middle" >Tumor</text>
<text transform="translate(395.30,459.70) rotate(-90) scale(0.9259,1)" font-size="8.64" text-anchor="middle" ><tspan font-style="italic">TNF&#945;</tspan> (Relative to 18S)</text>
<text transform="translate(121.24,191.30) scale(0.95,1)" font-size="12.4" font-weight="bold" fill="#000" style="stroke:#000;stroke-width:0.25px">E</text>
<line x1="164.80" y1="250.20" x2="184.00" y2="255.50" stroke="#a8a8a8" stroke-width="0.8"/>
<line x1="203.20" y1="251.90" x2="222.40" y2="257.30" stroke="#a8a8a8" stroke-width="0.8"/>
<line x1="241.60" y1="249.60" x2="260.80" y2="260.40" stroke="#a8a8a8" stroke-width="0.8"/>
<line x1="280.00" y1="251.30" x2="299.20" y2="249.80" stroke="#a8a8a8" stroke-width="0.8"/>
<line x1="318.40" y1="246.50" x2="337.60" y2="251.20" stroke="#a8a8a8" stroke-width="0.8"/>
<defs><linearGradient id="vg1" gradientUnits="userSpaceOnUse" x1="0" y1="219.2" x2="0" y2="272"><stop offset="0.0000" stop-color="#1a36d8"/><stop offset="0.2992" stop-color="#1a36d8"/><stop offset="0.2992" stop-color="#48e4f4"/><stop offset="0.3239" stop-color="#48e4f4"/><stop offset="0.3239" stop-color="#8cf07a"/><stop offset="0.3523" stop-color="#8cf07a"/><stop offset="0.3523" stop-color="#c4f234"/><stop offset="0.4280" stop-color="#c4f234"/><stop offset="0.4280" stop-color="#8cf07a"/><stop offset="0.4545" stop-color="#8cf07a"/><stop offset="0.4545" stop-color="#48e4f4"/><stop offset="0.5417" stop-color="#48e4f4"/><stop offset="0.5417" stop-color="#8cf07a"/><stop offset="0.5795" stop-color="#8cf07a"/><stop offset="0.5795" stop-color="#f6ee10"/><stop offset="0.6212" stop-color="#f6ee10"/><stop offset="0.6212" stop-color="#ff9a00"/><stop offset="0.6591" stop-color="#ff9a00"/><stop offset="0.6591" stop-color="#ff1a00"/><stop offset="0.7462" stop-color="#ff1a00"/><stop offset="0.7462" stop-color="#ff9a00"/><stop offset="0.7652" stop-color="#ff9a00"/><stop offset="0.7652" stop-color="#f6ee10"/><stop offset="0.7917" stop-color="#f6ee10"/><stop offset="0.7917" stop-color="#8cf07a"/><stop offset="0.8239" stop-color="#8cf07a"/><stop offset="0.8239" stop-color="#48e4f4"/><stop offset="0.8580" stop-color="#48e4f4"/><stop offset="0.8580" stop-color="#1a36d8"/><stop offset="1.0000" stop-color="#1a36d8"/></linearGradient></defs><path d="M164.80,219.20 L164.00,224.00 L163.70,229.00 L163.30,233.00 L162.60,235.00 L161.40,236.50 L160.60,238.00 L160.30,240.00 L160.70,242.00 L161.80,243.30 L162.70,244.50 L162.80,246.50 L162.20,247.80 L161.20,249.50 L160.30,251.00 L159.30,252.50 L158.30,254.00 L157.80,255.50 L157.80,257.00 L158.50,258.50 L159.80,260.00 L161.00,261.50 L162.00,263.00 L162.80,264.50 L163.20,266.00 L163.80,269.00 L164.80,272.00 L164.80,272.00 L165.80,269.00 L166.40,266.00 L166.80,264.50 L167.60,263.00 L168.60,261.50 L169.80,260.00 L171.10,258.50 L171.80,257.00 L171.80,255.50 L171.30,254.00 L170.30,252.50 L169.30,251.00 L168.40,249.50 L167.40,247.80 L166.80,246.50 L166.90,244.50 L167.80,243.30 L168.90,242.00 L169.30,240.00 L169.00,238.00 L168.20,236.50 L167.00,235.00 L166.30,233.00 L165.90,229.00 L165.60,224.00 L164.80,219.20Z" fill="url(#vg1)"/>
<defs><linearGradient id="vg2" gradientUnits="userSpaceOnUse" x1="0" y1="223.9" x2="0" y2="306"><stop offset="0.0000" stop-color="#1a36d8"/><stop offset="0.1084" stop-color="#1a36d8"/><stop offset="0.1084" stop-color="#48e4f4"/><stop offset="0.1413" stop-color="#48e4f4"/><stop offset="0.1413" stop-color="#8cf07a"/><stop offset="0.1717" stop-color="#8cf07a"/><stop offset="0.1717" stop-color="#f6ee10"/><stop offset="0.2083" stop-color="#f6ee10"/><stop offset="0.2083" stop-color="#ff9a00"/><stop offset="0.2326" stop-color="#ff9a00"/><stop offset="0.2326" stop-color="#ff1a00"/><stop offset="0.4738" stop-color="#ff1a00"/><stop offset="0.4738" stop-color="#ff9a00"/><stop offset="0.4921" stop-color="#ff9a00"/><stop offset="0.4921" stop-color="#f6ee10"/><stop offset="0.5067" stop-color="#f6ee10"/><stop offset="0.5067" stop-color="#8cf07a"/><stop offset="0.5250" stop-color="#8cf07a"/><stop offset="0.5250" stop-color="#6ab8f0"/><stop offset="0.5432" stop-color="#6ab8f0"/><stop offset="0.5432" stop-color="#48e4f4"/><stop offset="0.6224" stop-color="#48e4f4"/><stop offset="0.6224" stop-color="#40b8f0"/><stop offset="0.6590" stop-color="#40b8f0"/><stop offset="0.6590" stop-color="#3a7ef0"/><stop offset="0.6955" stop-color="#3a7ef0"/><stop offset="0.6955" stop-color="#1a36d8"/><stop offset="0.8051" stop-color="#1a36d8"/><stop offset="0.8051" stop-color="#0c1890"/><stop offset="1.0000" stop-color="#0c1890"/></linearGradient></defs><path d="M184.00,223.90 L183.20,227.00 L182.60,230.00 L181.80,232.80 L180.80,235.00 L179.90,237.00 L179.00,239.00 L178.00,241.00 L177.10,243.00 L176.40,245.00 L176.00,248.00 L175.80,251.00 L175.40,254.00 L175.40,256.00 L175.80,258.00 L176.80,260.00 L177.80,262.00 L178.80,263.50 L179.70,265.00 L180.60,266.50 L181.40,268.00 L181.60,270.00 L181.70,279.00 L182.10,281.00 L182.70,287.00 L183.00,292.00 L183.30,297.00 L183.20,301.00 L184.00,306.00 L184.00,306.00 L184.80,301.00 L184.70,297.00 L185.00,292.00 L185.30,287.00 L185.90,281.00 L186.30,279.00 L186.40,270.00 L186.60,268.00 L187.40,266.50 L188.30,265.00 L189.20,263.50 L190.20,262.00 L191.20,260.00 L192.20,258.00 L192.60,256.00 L192.60,254.00 L192.20,251.00 L192.00,248.00 L191.60,245.00 L190.90,243.00 L190.00,241.00 L189.00,239.00 L188.10,237.00 L187.20,235.00 L186.20,232.80 L185.40,230.00 L184.80,227.00 L184.00,223.90Z" fill="url(#vg2)"/>
<clipPath id="cvg2"><path d="M184.00,223.90 L183.20,227.00 L182.60,230.00 L181.80,232.80 L180.80,235.00 L179.90,237.00 L179.00,239.00 L178.00,241.00 L177.10,243.00 L176.40,245.00 L176.00,248.00 L175.80,251.00 L175.40,254.00 L175.40,256.00 L175.80,258.00 L176.80,260.00 L177.80,262.00 L178.80,263.50 L179.70,265.00 L180.60,266.50 L181.40,268.00 L181.60,270.00 L181.70,279.00 L182.10,281.00 L182.70,287.00 L183.00,292.00 L183.30,297.00 L183.20,301.00 L184.00,306.00 L184.00,306.00 L184.80,301.00 L184.70,297.00 L185.00,292.00 L185.30,287.00 L185.90,281.00 L186.30,279.00 L186.40,270.00 L186.60,268.00 L187.40,266.50 L188.30,265.00 L189.20,263.50 L190.20,262.00 L191.20,260.00 L192.20,258.00 L192.60,256.00 L192.60,254.00 L192.20,251.00 L192.00,248.00 L191.60,245.00 L190.90,243.00 L190.00,241.00 L189.00,239.00 L188.10,237.00 L187.20,235.00 L186.20,232.80 L185.40,230.00 L184.80,227.00 L184.00,223.90Z"/></clipPath><g clip-path="url(#cvg2)">
<ellipse cx="184.00" cy="256.00" rx="8.6" ry="4.6" fill="#c00000"/>
<ellipse cx="184.00" cy="256.00" rx="6.8" ry="3.2" fill="#8a0000"/>
</g>
<defs><linearGradient id="vg3" gradientUnits="userSpaceOnUse" x1="0" y1="223.5" x2="0" y2="265"><stop offset="0.0000" stop-color="#1a36d8"/><stop offset="0.6627" stop-color="#1a36d8"/><stop offset="0.7831" stop-color="#3c8cf0"/><stop offset="0.9036" stop-color="#1a36d8"/></linearGradient></defs><path d="M203.20,223.50 L202.60,226.00 L202.50,248.00 L202.00,251.00 L200.90,254.00 L200.60,256.50 L201.00,259.00 L202.00,262.00 L203.20,265.00 L203.20,265.00 L204.40,262.00 L205.40,259.00 L205.80,256.50 L205.50,254.00 L204.40,251.00 L203.90,248.00 L203.80,226.00 L203.20,223.50Z" fill="url(#vg3)"/>
<defs><linearGradient id="vg4" gradientUnits="userSpaceOnUse" x1="0" y1="226.5" x2="0" y2="295.4"><stop offset="0.0000" stop-color="#1a36d8"/><stop offset="0.1959" stop-color="#1a36d8"/><stop offset="0.2830" stop-color="#3aa8f0"/><stop offset="0.3411" stop-color="#48d8f0"/><stop offset="0.3991" stop-color="#44c8f0"/><stop offset="0.4717" stop-color="#2a6ae8"/><stop offset="0.5443" stop-color="#1a36d8"/></linearGradient></defs><path d="M222.40,226.50 L221.40,232.00 L220.60,238.00 L219.90,243.00 L219.60,248.00 L219.60,253.00 L219.80,258.00 L220.40,263.00 L221.10,270.00 L221.50,280.00 L221.80,290.00 L222.40,295.40 L222.40,295.40 L223.00,290.00 L223.30,280.00 L223.70,270.00 L224.40,263.00 L225.00,258.00 L225.20,253.00 L225.20,248.00 L224.90,243.00 L224.20,238.00 L223.40,232.00 L222.40,226.50Z" fill="url(#vg4)"/>
<defs><linearGradient id="vg5" gradientUnits="userSpaceOnUse" x1="0" y1="218.8" x2="0" y2="272.7"><stop offset="0.0000" stop-color="#1a36d8"/><stop offset="0.6160" stop-color="#1a36d8"/><stop offset="0.7087" stop-color="#3a80f0"/><stop offset="0.8015" stop-color="#1a36d8"/></linearGradient></defs><path d="M241.60,218.80 L241.00,225.00 L240.80,235.00 L240.10,239.60 L240.90,244.00 L240.70,250.00 L239.80,254.00 L239.30,257.30 L240.00,261.00 L240.80,266.00 L241.60,272.70 L241.60,272.70 L242.40,266.00 L243.20,261.00 L243.90,257.30 L243.40,254.00 L242.50,250.00 L242.30,244.00 L243.10,239.60 L242.40,235.00 L242.20,225.00 L241.60,218.80Z" fill="url(#vg5)"/>
<defs><linearGradient id="vg6" gradientUnits="userSpaceOnUse" x1="0" y1="235" x2="0" y2="307.7"><stop offset="0.0000" stop-color="#1a36d8"/><stop offset="0.2063" stop-color="#1a36d8"/><stop offset="0.3164" stop-color="#48d0f2"/><stop offset="0.4127" stop-color="#1a36d8"/><stop offset="0.6878" stop-color="#1a36d8"/><stop offset="0.7565" stop-color="#0c1890"/></linearGradient></defs><path d="M260.80,235.00 L259.60,240.00 L258.80,246.00 L258.20,252.00 L258.00,257.00 L258.30,262.00 L258.80,268.00 L259.30,275.00 L259.80,282.00 L260.30,287.00 L260.55,289.00 L260.55,293.00 L260.30,296.00 L260.40,303.00 L260.80,307.70 L260.80,307.70 L261.20,303.00 L261.30,296.00 L261.05,293.00 L261.05,289.00 L261.30,287.00 L261.80,282.00 L262.30,275.00 L262.80,268.00 L263.30,262.00 L263.60,257.00 L263.40,252.00 L262.80,246.00 L262.00,240.00 L260.80,235.00Z" fill="url(#vg6)"/>
<defs><linearGradient id="vg7" gradientUnits="userSpaceOnUse" x1="0" y1="219" x2="0" y2="278.7"><stop offset="0.0000" stop-color="#1a36d8"/><stop offset="1.0000" stop-color="#1a36d8"/></linearGradient></defs><path d="M280.00,219.00 L279.30,222.00 L279.00,245.00 L278.70,255.00 L279.00,265.00 L279.40,275.00 L280.00,278.70 L280.00,278.70 L280.60,275.00 L281.00,265.00 L281.30,255.00 L281.00,245.00 L280.70,222.00 L280.00,219.00Z" fill="url(#vg7)"/>
<defs><linearGradient id="vg8" gradientUnits="userSpaceOnUse" x1="0" y1="223.8" x2="0" y2="285.4"><stop offset="0.0000" stop-color="#1a36d8"/><stop offset="1.0000" stop-color="#1a36d8"/></linearGradient></defs><path d="M299.20,223.80 L298.40,230.00 L297.80,236.00 L297.10,241.00 L297.60,246.00 L297.10,252.70 L297.60,258.00 L298.20,265.00 L298.50,275.00 L299.20,285.40 L299.20,285.40 L299.90,275.00 L300.20,265.00 L300.80,258.00 L301.30,252.70 L300.80,246.00 L301.30,241.00 L300.60,236.00 L300.00,230.00 L299.20,223.80Z" fill="url(#vg8)"/>
<defs><linearGradient id="vg9" gradientUnits="userSpaceOnUse" x1="0" y1="233.5" x2="0" y2="261.3"><stop offset="0.0000" stop-color="#1a36d8"/><stop offset="1.0000" stop-color="#1a36d8"/></linearGradient></defs><path d="M318.40,233.50 L317.20,237.00 L316.30,241.00 L316.80,246.00 L317.30,252.00 L317.70,257.00 L318.40,261.30 L318.40,261.30 L319.10,257.00 L319.50,252.00 L320.00,246.00 L320.50,241.00 L319.60,237.00 L318.40,233.50Z" fill="url(#vg9)"/>
<defs><linearGradient id="vg10" gradientUnits="userSpaceOnUse" x1="0" y1="225.8" x2="0" y2="271.9"><stop offset="0.0000" stop-color="#1a36d8"/><stop offset="1.0000" stop-color="#1a36d8"/></linearGradient></defs><path d="M337.60,225.80 L337.00,235.00 L336.60,244.00 L336.00,249.80 L336.40,255.00 L336.90,262.00 L337.60,271.90 L337.60,271.90 L338.30,262.00 L338.80,255.00 L339.20,249.80 L338.60,244.00 L338.20,235.00 L337.60,225.80Z" fill="url(#vg10)"/>
<line x1="155.20" y1="209.50" x2="347.50" y2="209.50" stroke="#505050" stroke-width="0.9"/>
<line x1="155.20" y1="209.50" x2="155.20" y2="325.60" stroke="#505050" stroke-width="0.9"/>
<line x1="347.50" y1="209.50" x2="347.50" y2="314.90" stroke="#a8a8a8" stroke-width="0.9"/>
<line x1="347.50" y1="314.90" x2="347.50" y2="325.60" stroke="#505050" stroke-width="0.9"/>
<line x1="155.20" y1="325.60" x2="347.50" y2="325.60" stroke="#505050" stroke-width="0.9"/>
<line x1="155.20" y1="314.90" x2="347.50" y2="314.90" stroke="#505050" stroke-width="0.9"/>
<line x1="154.40" y1="302.64" x2="156.70" y2="302.64" stroke="#505050" stroke-width="0.8"/>
<line x1="346.20" y1="302.64" x2="347.50" y2="302.64" stroke="#a8a8a8" stroke-width="0.8"/>
<line x1="154.40" y1="289.28" x2="156.70" y2="289.28" stroke="#505050" stroke-width="0.8"/>
<line x1="346.20" y1="289.28" x2="347.50" y2="289.28" stroke="#a8a8a8" stroke-width="0.8"/>
<line x1="154.40" y1="275.92" x2="156.70" y2="275.92" stroke="#505050" stroke-width="0.8"/>
<line x1="346.20" y1="275.92" x2="347.50" y2="275.92" stroke="#a8a8a8" stroke-width="0.8"/>
<line x1="154.40" y1="262.56" x2="156.70" y2="262.56" stroke="#505050" stroke-width="0.8"/>
<line x1="346.20" y1="262.56" x2="347.50" y2="262.56" stroke="#a8a8a8" stroke-width="0.8"/>
<line x1="154.40" y1="249.20" x2="156.70" y2="249.20" stroke="#505050" stroke-width="0.8"/>
<line x1="346.20" y1="249.20" x2="347.50" y2="249.20" stroke="#a8a8a8" stroke-width="0.8"/>
<line x1="154.40" y1="235.84" x2="156.70" y2="235.84" stroke="#505050" stroke-width="0.8"/>
<line x1="346.20" y1="235.84" x2="347.50" y2="235.84" stroke="#a8a8a8" stroke-width="0.8"/>
<line x1="154.40" y1="222.48" x2="156.70" y2="222.48" stroke="#505050" stroke-width="0.8"/>
<line x1="346.20" y1="222.48" x2="347.50" y2="222.48" stroke="#a8a8a8" stroke-width="0.8"/>
<text transform="translate(146.70,307.69) scale(0.9259,1)" font-size="8.64" text-anchor="middle" fill="#222" >8</text>
<text transform="translate(146.70,280.97) scale(0.9259,1)" font-size="8.64" text-anchor="middle" fill="#222" >9</text>
<text transform="translate(146.70,254.25) scale(0.9259,1)" font-size="8.64" text-anchor="middle" fill="#222" >10</text>
<text transform="translate(146.70,227.53) scale(0.9259,1)" font-size="8.64" text-anchor="middle" fill="#222" >11</text>
<line x1="164.80" y1="209.50" x2="164.80" y2="212.30" stroke="#505050" stroke-width="0.8"/>
<line x1="164.80" y1="314.90" x2="164.80" y2="312.30" stroke="#505050" stroke-width="0.8"/>
<line x1="164.80" y1="325.60" x2="164.80" y2="323.40" stroke="#505050" stroke-width="0.8"/>
<line x1="184.00" y1="209.50" x2="184.00" y2="212.30" stroke="#505050" stroke-width="0.8"/>
<line x1="184.00" y1="314.90" x2="184.00" y2="312.30" stroke="#505050" stroke-width="0.8"/>
<line x1="184.00" y1="325.60" x2="184.00" y2="323.40" stroke="#505050" stroke-width="0.8"/>
<line x1="203.20" y1="209.50" x2="203.20" y2="212.30" stroke="#505050" stroke-width="0.8"/>
<line x1="203.20" y1="314.90" x2="203.20" y2="312.30" stroke="#505050" stroke-width="0.8"/>
<line x1="203.20" y1="325.60" x2="203.20" y2="323.40" stroke="#505050" stroke-width="0.8"/>
<line x1="222.40" y1="209.50" x2="222.40" y2="212.30" stroke="#505050" stroke-width="0.8"/>
<line x1="222.40" y1="314.90" x2="222.40" y2="312.30" stroke="#505050" stroke-width="0.8"/>
<line x1="222.40" y1="325.60" x2="222.40" y2="323.40" stroke="#505050" stroke-width="0.8"/>
<line x1="241.60" y1="209.50" x2="241.60" y2="212.30" stroke="#505050" stroke-width="0.8"/>
<line x1="241.60" y1="314.90" x2="241.60" y2="312.30" stroke="#505050" stroke-width="0.8"/>
<line x1="241.60" y1="325.60" x2="241.60" y2="323.40" stroke="#505050" stroke-width="0.8"/>
<line x1="260.80" y1="209.50" x2="260.80" y2="212.30" stroke="#505050" stroke-width="0.8"/>
<line x1="260.80" y1="314.90" x2="260.80" y2="312.30" stroke="#505050" stroke-width="0.8"/>
<line x1="260.80" y1="325.60" x2="260.80" y2="323.40" stroke="#505050" stroke-width="0.8"/>
<line x1="280.00" y1="209.50" x2="280.00" y2="212.30" stroke="#505050" stroke-width="0.8"/>
<line x1="280.00" y1="314.90" x2="280.00" y2="312.30" stroke="#505050" stroke-width="0.8"/>
<line x1="280.00" y1="325.60" x2="280.00" y2="323.40" stroke="#505050" stroke-width="0.8"/>
<line x1="299.20" y1="209.50" x2="299.20" y2="212.30" stroke="#505050" stroke-width="0.8"/>
<line x1="299.20" y1="314.90" x2="299.20" y2="312.30" stroke="#505050" stroke-width="0.8"/>
<line x1="299.20" y1="325.60" x2="299.20" y2="323.40" stroke="#505050" stroke-width="0.8"/>
<line x1="318.40" y1="209.50" x2="318.40" y2="212.30" stroke="#505050" stroke-width="0.8"/>
<line x1="318.40" y1="314.90" x2="318.40" y2="312.30" stroke="#505050" stroke-width="0.8"/>
<line x1="318.40" y1="325.60" x2="318.40" y2="323.40" stroke="#505050" stroke-width="0.8"/>
<line x1="337.60" y1="209.50" x2="337.60" y2="212.30" stroke="#505050" stroke-width="0.8"/>
<line x1="337.60" y1="314.90" x2="337.60" y2="312.30" stroke="#505050" stroke-width="0.8"/>
<line x1="337.60" y1="325.60" x2="337.60" y2="323.40" stroke="#505050" stroke-width="0.8"/>
<text transform="translate(164.80,322.50) scale(0.9259,1)" font-size="4.75" text-anchor="middle" fill="#444" style="stroke:#666;stroke-width:0.12px">55</text>
<text transform="translate(184.00,322.50) scale(0.9259,1)" font-size="4.75" text-anchor="middle" fill="#444" style="stroke:#666;stroke-width:0.12px">72</text>
<text transform="translate(203.20,322.50) scale(0.9259,1)" font-size="4.75" text-anchor="middle" fill="#444" style="stroke:#666;stroke-width:0.12px">16</text>
<text transform="translate(222.40,322.50) scale(0.9259,1)" font-size="4.75" text-anchor="middle" fill="#444" style="stroke:#666;stroke-width:0.12px">26</text>
<text transform="translate(241.60,322.50) scale(0.9259,1)" font-size="4.75" text-anchor="middle" fill="#444" style="stroke:#666;stroke-width:0.12px">14</text>
<text transform="translate(260.80,322.50) scale(0.9259,1)" font-size="4.75" text-anchor="middle" fill="#444" style="stroke:#666;stroke-width:0.12px">20</text>
<text transform="translate(280.00,322.50) scale(0.9259,1)" font-size="4.75" text-anchor="middle" fill="#444" style="stroke:#666;stroke-width:0.12px">12</text>
<text transform="translate(299.20,322.50) scale(0.9259,1)" font-size="4.75" text-anchor="middle" fill="#444" style="stroke:#666;stroke-width:0.12px">18</text>
<text transform="translate(318.40,322.50) scale(0.9259,1)" font-size="4.75" text-anchor="middle" fill="#444" style="stroke:#666;stroke-width:0.12px">13</text>
<text transform="translate(337.60,322.50) scale(0.9259,1)" font-size="4.75" text-anchor="middle" fill="#444" style="stroke:#666;stroke-width:0.12px">8</text>
<text transform="translate(164.80,331.7) scale(0.74,1)" font-size="5" text-anchor="middle" fill="#444" style="stroke:#777;stroke-width:0.12px">All</text>
<text transform="translate(164.80,338.6) scale(0.74,1)" font-size="5" text-anchor="middle" fill="#444" style="stroke:#777;stroke-width:0.12px">HP+</text>
<text transform="translate(184.00,331.7) scale(0.74,1)" font-size="5" text-anchor="middle" fill="#444" style="stroke:#777;stroke-width:0.12px">All</text>
<text transform="translate(184.00,338.6) scale(0.74,1)" font-size="5" text-anchor="middle" fill="#444" style="stroke:#777;stroke-width:0.12px">HP&#8211;</text>
<text transform="translate(203.20,331.7) scale(0.74,1)" font-size="5" text-anchor="middle" fill="#444" style="stroke:#777;stroke-width:0.12px">MSS/TP53&#8211;</text>
<text transform="translate(203.20,338.6) scale(0.74,1)" font-size="5" text-anchor="middle" fill="#444" style="stroke:#777;stroke-width:0.12px">HP+</text>
<text transform="translate(222.40,331.7) scale(0.74,1)" font-size="5" text-anchor="middle" fill="#444" style="stroke:#777;stroke-width:0.12px">MSS/TP53&#8211;</text>
<text transform="translate(222.40,338.6) scale(0.74,1)" font-size="5" text-anchor="middle" fill="#444" style="stroke:#777;stroke-width:0.12px">HP&#8211;</text>
<text transform="translate(241.60,331.7) scale(0.74,1)" font-size="5" text-anchor="middle" fill="#444" style="stroke:#777;stroke-width:0.12px">MSS/TP53+</text>
<text transform="translate(241.60,338.6) scale(0.74,1)" font-size="5" text-anchor="middle" fill="#444" style="stroke:#777;stroke-width:0.12px">HP+</text>
<text transform="translate(260.80,331.7) scale(0.74,1)" font-size="5" text-anchor="middle" fill="#444" style="stroke:#777;stroke-width:0.12px">MSS/TP53+</text>
<text transform="translate(260.80,338.6) scale(0.74,1)" font-size="5" text-anchor="middle" fill="#444" style="stroke:#777;stroke-width:0.12px">HP&#8211;</text>
<text transform="translate(280.00,331.7) scale(0.74,1)" font-size="5" text-anchor="middle" fill="#444" style="stroke:#777;stroke-width:0.12px">MSI</text>
<text transform="translate(280.00,338.6) scale(0.74,1)" font-size="5" text-anchor="middle" fill="#444" style="stroke:#777;stroke-width:0.12px">HP+</text>
<text transform="translate(299.20,331.7) scale(0.74,1)" font-size="5" text-anchor="middle" fill="#444" style="stroke:#777;stroke-width:0.12px">MSI</text>
<text transform="translate(299.20,338.6) scale(0.74,1)" font-size="5" text-anchor="middle" fill="#444" style="stroke:#777;stroke-width:0.12px">HP&#8211;</text>
<text transform="translate(318.40,331.7) scale(0.74,1)" font-size="5" text-anchor="middle" fill="#444" style="stroke:#777;stroke-width:0.12px">EMT</text>
<text transform="translate(318.40,338.6) scale(0.74,1)" font-size="5" text-anchor="middle" fill="#444" style="stroke:#777;stroke-width:0.12px">HP+</text>
<text transform="translate(337.60,331.7) scale(0.74,1)" font-size="5" text-anchor="middle" fill="#444" style="stroke:#777;stroke-width:0.12px">EMT</text>
<text transform="translate(337.60,338.6) scale(0.74,1)" font-size="5" text-anchor="middle" fill="#444" style="stroke:#777;stroke-width:0.12px">HP&#8211;</text>
<text transform="translate(177.4,205.6) scale(0.9,1)" font-size="7.6" text-anchor="middle" fill="#2a2a2a"><tspan font-style="italic" font-weight="bold">P</tspan> = 0.002</text>
<text transform="translate(253.6,205.6) scale(0.9,1)" font-size="7.6" text-anchor="middle" fill="#2a2a2a"><tspan font-style="italic" font-weight="bold">P</tspan> = 0.006</text>
<text transform="translate(127.60,275.00) rotate(-90) scale(0.9259,1)" font-size="8.64" text-anchor="middle" >SOX9</text>
<text transform="translate(136.90,273.20) rotate(-90) scale(0.9259,1)" font-size="8.64" text-anchor="middle" >Expression</text>
<text transform="translate(199.24,365.80) scale(0.95,1)" font-size="12.4" font-weight="bold" fill="#000" style="stroke:#000;stroke-width:0.25px">H</text>
<line x1="220.50" y1="392.40" x2="290.00" y2="392.40" stroke="#333" stroke-width="0.9"/>
<line x1="220.50" y1="392.40" x2="220.50" y2="505.50" stroke="#333" stroke-width="0.9"/>
<line x1="220.50" y1="505.50" x2="290.00" y2="505.50" stroke="#333" stroke-width="0.9"/>
<line x1="220.50" y1="508.10" x2="220.50" y2="519.90" stroke="#333" stroke-width="0.9"/>
<line x1="220.50" y1="519.90" x2="285.80" y2="519.90" stroke="#333" stroke-width="0.9"/>
<line x1="220.50" y1="492.60" x2="222.90" y2="492.60" stroke="#333" stroke-width="0.9"/>
<text transform="translate(218.60,495.10) scale(0.9259,1)" font-size="7.78" text-anchor="end" >3</text>
<line x1="220.50" y1="467.55" x2="222.90" y2="467.55" stroke="#333" stroke-width="0.9"/>
<text transform="translate(218.60,470.05) scale(0.9259,1)" font-size="7.78" text-anchor="end" >4</text>
<line x1="220.50" y1="442.50" x2="222.90" y2="442.50" stroke="#333" stroke-width="0.9"/>
<text transform="translate(218.60,445.00) scale(0.9259,1)" font-size="7.78" text-anchor="end" >5</text>
<line x1="220.50" y1="417.45" x2="222.90" y2="417.45" stroke="#333" stroke-width="0.9"/>
<text transform="translate(218.60,419.95) scale(0.9259,1)" font-size="7.78" text-anchor="end" >6</text>
<line x1="220.50" y1="392.40" x2="222.90" y2="392.40" stroke="#333" stroke-width="0.9"/>
<text transform="translate(218.60,394.90) scale(0.9259,1)" font-size="7.78" text-anchor="end" >7</text>
<line x1="220.50" y1="480.07" x2="222.50" y2="480.07" stroke="#333" stroke-width="0.9"/>
<line x1="220.50" y1="455.02" x2="222.50" y2="455.02" stroke="#333" stroke-width="0.9"/>
<line x1="220.50" y1="429.97" x2="222.50" y2="429.97" stroke="#333" stroke-width="0.9"/>
<line x1="220.50" y1="404.92" x2="222.50" y2="404.92" stroke="#333" stroke-width="0.9"/>
<line x1="236.50" y1="392.40" x2="236.50" y2="394.40" stroke="#333" stroke-width="0.9"/>
<line x1="236.50" y1="505.50" x2="236.50" y2="503.30" stroke="#333" stroke-width="0.9"/>
<line x1="269.20" y1="392.40" x2="269.20" y2="394.40" stroke="#333" stroke-width="0.9"/>
<line x1="269.20" y1="505.50" x2="269.20" y2="503.30" stroke="#333" stroke-width="0.9"/>
<line x1="237.00" y1="519.90" x2="237.00" y2="517.70" stroke="#333" stroke-width="0.9"/>
<line x1="271.20" y1="519.90" x2="271.20" y2="517.70" stroke="#333" stroke-width="0.9"/>
<text transform="translate(237.20,516.00) scale(0.9259,1)" font-size="7.99" text-anchor="middle" >55</text>
<text transform="translate(237.20,528.50) scale(0.9259,1)" font-size="7.78" text-anchor="middle" >All</text>
<text transform="translate(237.20,536.70) scale(0.9259,1)" font-size="7.78" text-anchor="middle" >HP+</text>
<text transform="translate(271.50,516.00) scale(0.9259,1)" font-size="7.99" text-anchor="middle" >72</text>
<text transform="translate(271.50,528.50) scale(0.9259,1)" font-size="7.78" text-anchor="middle" >All</text>
<text transform="translate(271.50,536.70) scale(0.9259,1)" font-size="7.78" text-anchor="middle" >HP&#8211;</text>
<line x1="308.80" y1="392.40" x2="380.00" y2="392.40" stroke="#333" stroke-width="0.9"/>
<line x1="308.80" y1="392.40" x2="308.80" y2="506.20" stroke="#333" stroke-width="0.9"/>
<line x1="308.80" y1="506.20" x2="380.00" y2="506.20" stroke="#333" stroke-width="0.9"/>
<line x1="308.80" y1="509.00" x2="308.80" y2="521.40" stroke="#333" stroke-width="0.9"/>
<line x1="308.80" y1="521.40" x2="378.50" y2="521.40" stroke="#333" stroke-width="0.9"/>
<line x1="308.80" y1="506.64" x2="311.20" y2="506.64" stroke="#333" stroke-width="0.9"/>
<text transform="translate(306.90,509.14) scale(0.9259,1)" font-size="7.78" text-anchor="end" >2</text>
<line x1="308.80" y1="490.32" x2="311.20" y2="490.32" stroke="#333" stroke-width="0.9"/>
<text transform="translate(306.90,492.82) scale(0.9259,1)" font-size="7.78" text-anchor="end" >4</text>
<line x1="308.80" y1="474.00" x2="311.20" y2="474.00" stroke="#333" stroke-width="0.9"/>
<text transform="translate(306.90,476.50) scale(0.9259,1)" font-size="7.78" text-anchor="end" >6</text>
<line x1="308.80" y1="457.68" x2="311.20" y2="457.68" stroke="#333" stroke-width="0.9"/>
<text transform="translate(306.90,460.18) scale(0.9259,1)" font-size="7.78" text-anchor="end" >8</text>
<line x1="308.80" y1="441.36" x2="311.20" y2="441.36" stroke="#333" stroke-width="0.9"/>
<text transform="translate(306.90,443.86) scale(0.9259,1)" font-size="7.78" text-anchor="end" >10</text>
<line x1="308.80" y1="425.04" x2="311.20" y2="425.04" stroke="#333" stroke-width="0.9"/>
<text transform="translate(306.90,427.54) scale(0.9259,1)" font-size="7.78" text-anchor="end" >12</text>
<line x1="308.80" y1="408.72" x2="311.20" y2="408.72" stroke="#333" stroke-width="0.9"/>
<text transform="translate(306.90,411.22) scale(0.9259,1)" font-size="7.78" text-anchor="end" >14</text>
<line x1="308.80" y1="392.40" x2="311.20" y2="392.40" stroke="#333" stroke-width="0.9"/>
<text transform="translate(306.90,394.90) scale(0.9259,1)" font-size="7.78" text-anchor="end" >16</text>
<line x1="325.60" y1="392.40" x2="325.60" y2="394.40" stroke="#333" stroke-width="0.9"/>
<line x1="325.60" y1="506.20" x2="325.60" y2="504.00" stroke="#333" stroke-width="0.9"/>
<line x1="359.30" y1="392.40" x2="359.30" y2="394.40" stroke="#333" stroke-width="0.9"/>
<line x1="359.30" y1="506.20" x2="359.30" y2="504.00" stroke="#333" stroke-width="0.9"/>
<line x1="326.30" y1="521.40" x2="326.30" y2="519.20" stroke="#333" stroke-width="0.9"/>
<line x1="359.60" y1="521.40" x2="359.60" y2="519.20" stroke="#333" stroke-width="0.9"/>
<text transform="translate(326.50,516.90) scale(0.9259,1)" font-size="7.99" text-anchor="middle" >55</text>
<text transform="translate(326.50,530.00) scale(0.9259,1)" font-size="7.78" text-anchor="middle" >All</text>
<text transform="translate(326.50,538.20) scale(0.9259,1)" font-size="7.78" text-anchor="middle" >HP+</text>
<text transform="translate(359.60,516.90) scale(0.9259,1)" font-size="7.99" text-anchor="middle" >72</text>
<text transform="translate(359.60,530.00) scale(0.9259,1)" font-size="7.78" text-anchor="middle" >All</text>
<text transform="translate(359.60,538.20) scale(0.9259,1)" font-size="7.78" text-anchor="middle" >HP&#8211;</text>
<line x1="241.30" y1="452.00" x2="255.20" y2="453.90" stroke="#a8a8a8" stroke-width="0.8"/>
<defs><linearGradient id="vg11" gradientUnits="userSpaceOnUse" x1="0" y1="400.2" x2="0" y2="482.6"><stop offset="0.0000" stop-color="#1a36d8"/><stop offset="0.5680" stop-color="#1a36d8"/><stop offset="0.5983" stop-color="#3aa0f0"/><stop offset="0.6286" stop-color="#48e0f0"/><stop offset="0.6650" stop-color="#70f0a0"/><stop offset="0.7136" stop-color="#a8f040"/><stop offset="0.7500" stop-color="#c0f020"/><stop offset="0.7779" stop-color="#80f080"/><stop offset="0.8022" stop-color="#48e0f0"/><stop offset="0.8325" stop-color="#3a70e8"/><stop offset="0.8592" stop-color="#1a36d8"/><stop offset="1.0000" stop-color="#1a36d8"/></linearGradient></defs><path d="M236.50,400.20 L235.40,404.00 L234.80,407.60 L235.40,411.00 L236.10,414.10 L236.10,417.00 L235.60,420.00 L234.70,425.00 L234.00,429.00 L233.70,432.60 L234.10,436.00 L234.50,440.00 L234.40,443.70 L233.90,447.00 L233.30,449.30 L232.30,451.00 L231.10,453.00 L230.20,456.00 L229.70,459.00 L229.40,461.50 L229.70,463.00 L231.00,465.00 L232.50,466.50 L233.70,468.00 L234.50,472.00 L235.50,477.00 L236.50,482.60 L236.50,482.60 L237.50,477.00 L238.50,472.00 L239.30,468.00 L240.50,466.50 L242.00,465.00 L243.30,463.00 L243.60,461.50 L243.30,459.00 L242.80,456.00 L241.90,453.00 L240.70,451.00 L239.70,449.30 L239.10,447.00 L238.60,443.70 L238.50,440.00 L238.90,436.00 L239.30,432.60 L239.00,429.00 L238.30,425.00 L237.40,420.00 L236.90,417.00 L236.90,414.10 L237.60,411.00 L238.20,407.60 L237.60,404.00 L236.50,400.20Z" fill="url(#vg11)"/>
<defs><linearGradient id="vg12" gradientUnits="userSpaceOnUse" x1="0" y1="400.2" x2="0" y2="479.8"><stop offset="0.0000" stop-color="#1a36d8"/><stop offset="0.5817" stop-color="#1a36d8"/><stop offset="0.5817" stop-color="#3a86f2"/><stop offset="0.6005" stop-color="#3a86f2"/><stop offset="0.6005" stop-color="#48e4f4"/><stop offset="0.6281" stop-color="#48e4f4"/><stop offset="0.6281" stop-color="#7cf0b8"/><stop offset="0.6482" stop-color="#7cf0b8"/><stop offset="0.6482" stop-color="#b0f050"/><stop offset="0.6696" stop-color="#b0f050"/><stop offset="0.6696" stop-color="#e8e800"/><stop offset="0.6834" stop-color="#e8e800"/><stop offset="0.6834" stop-color="#ff9a00"/><stop offset="0.6947" stop-color="#ff9a00"/><stop offset="0.6947" stop-color="#d80000"/><stop offset="0.7563" stop-color="#d80000"/><stop offset="0.7563" stop-color="#e07000"/><stop offset="0.7688" stop-color="#e07000"/><stop offset="0.7688" stop-color="#b4f020"/><stop offset="0.7990" stop-color="#b4f020"/><stop offset="0.7990" stop-color="#f6ee10"/><stop offset="0.8492" stop-color="#f6ee10"/><stop offset="0.8492" stop-color="#a0f060"/><stop offset="0.8618" stop-color="#a0f060"/><stop offset="0.8618" stop-color="#48e4f4"/><stop offset="0.8844" stop-color="#48e4f4"/><stop offset="0.8844" stop-color="#3a86f2"/><stop offset="0.9020" stop-color="#3a86f2"/><stop offset="0.9020" stop-color="#1a36d8"/><stop offset="1.0000" stop-color="#1a36d8"/></linearGradient></defs><path d="M269.20,400.20 L268.60,401.50 L268.10,403.00 L268.70,405.00 L268.70,409.00 L268.60,412.00 L268.10,415.00 L268.70,418.00 L268.60,428.00 L268.30,431.00 L268.00,434.40 L268.40,437.00 L268.10,440.00 L267.60,443.00 L266.80,445.00 L265.60,447.00 L264.20,449.00 L262.70,451.00 L260.70,453.00 L258.70,454.50 L256.20,455.80 L254.70,457.00 L254.40,458.00 L255.00,459.20 L257.20,460.20 L259.70,461.20 L260.60,462.50 L260.40,465.00 L260.80,467.00 L262.00,468.50 L263.70,470.00 L265.20,471.50 L266.40,473.50 L267.40,476.00 L269.20,479.80 L269.20,479.80 L271.00,476.00 L272.00,473.50 L273.20,471.50 L274.70,470.00 L276.40,468.50 L277.60,467.00 L278.00,465.00 L277.80,462.50 L278.70,461.20 L281.20,460.20 L283.40,459.20 L284.00,458.00 L283.70,457.00 L282.20,455.80 L279.70,454.50 L277.70,453.00 L275.70,451.00 L274.20,449.00 L272.80,447.00 L271.60,445.00 L270.80,443.00 L270.30,440.00 L270.00,437.00 L270.40,434.40 L270.10,431.00 L269.80,428.00 L269.70,418.00 L270.30,415.00 L269.80,412.00 L269.70,409.00 L269.70,405.00 L270.30,403.00 L269.80,401.50 L269.20,400.20Z" fill="url(#vg12)"/>
<clipPath id="cvg12"><path d="M269.20,400.20 L268.60,401.50 L268.10,403.00 L268.70,405.00 L268.70,409.00 L268.60,412.00 L268.10,415.00 L268.70,418.00 L268.60,428.00 L268.30,431.00 L268.00,434.40 L268.40,437.00 L268.10,440.00 L267.60,443.00 L266.80,445.00 L265.60,447.00 L264.20,449.00 L262.70,451.00 L260.70,453.00 L258.70,454.50 L256.20,455.80 L254.70,457.00 L254.40,458.00 L255.00,459.20 L257.20,460.20 L259.70,461.20 L260.60,462.50 L260.40,465.00 L260.80,467.00 L262.00,468.50 L263.70,470.00 L265.20,471.50 L266.40,473.50 L267.40,476.00 L269.20,479.80 L269.20,479.80 L271.00,476.00 L272.00,473.50 L273.20,471.50 L274.70,470.00 L276.40,468.50 L277.60,467.00 L278.00,465.00 L277.80,462.50 L278.70,461.20 L281.20,460.20 L283.40,459.20 L284.00,458.00 L283.70,457.00 L282.20,455.80 L279.70,454.50 L277.70,453.00 L275.70,451.00 L274.20,449.00 L272.80,447.00 L271.60,445.00 L270.80,443.00 L270.30,440.00 L270.00,437.00 L270.40,434.40 L270.10,431.00 L269.80,428.00 L269.70,418.00 L270.30,415.00 L269.80,412.00 L269.70,409.00 L269.70,405.00 L270.30,403.00 L269.80,401.50 L269.20,400.20Z"/></clipPath><g clip-path="url(#cvg12)">
<ellipse cx="269.20" cy="458.00" rx="13.6" ry="2.0" fill="#900000"/>
</g>
<line x1="340.40" y1="447.40" x2="347.80" y2="447.40" stroke="#a8a8a8" stroke-width="0.8"/>
<defs><linearGradient id="vg13" gradientUnits="userSpaceOnUse" x1="0" y1="412.2" x2="0" y2="482.6"><stop offset="0.0000" stop-color="#1a36d8"/><stop offset="0.2713" stop-color="#1a36d8"/><stop offset="0.2713" stop-color="#3a86f2"/><stop offset="0.2898" stop-color="#3a86f2"/><stop offset="0.2898" stop-color="#4ad8ee"/><stop offset="0.3381" stop-color="#4ad8ee"/><stop offset="0.3381" stop-color="#6cecd8"/><stop offset="0.4020" stop-color="#6cecd8"/><stop offset="0.4020" stop-color="#86f0b0"/><stop offset="0.4205" stop-color="#86f0b0"/><stop offset="0.4205" stop-color="#8cf07a"/><stop offset="0.4446" stop-color="#8cf07a"/><stop offset="0.4446" stop-color="#f6ee10"/><stop offset="0.4602" stop-color="#f6ee10"/><stop offset="0.4602" stop-color="#ff9a00"/><stop offset="0.4744" stop-color="#ff9a00"/><stop offset="0.4744" stop-color="#d80000"/><stop offset="0.5824" stop-color="#d80000"/><stop offset="0.5824" stop-color="#ff9a00"/><stop offset="0.5980" stop-color="#ff9a00"/><stop offset="0.5980" stop-color="#f6ee10"/><stop offset="0.6165" stop-color="#f6ee10"/><stop offset="0.6165" stop-color="#8cf07a"/><stop offset="0.6364" stop-color="#8cf07a"/><stop offset="0.6364" stop-color="#48e4f4"/><stop offset="0.6591" stop-color="#48e4f4"/><stop offset="0.6591" stop-color="#3a86f2"/><stop offset="0.6790" stop-color="#3a86f2"/><stop offset="0.6790" stop-color="#1a36d8"/><stop offset="1.0000" stop-color="#1a36d8"/></linearGradient></defs><path d="M325.60,412.20 L325.00,414.00 L324.60,415.50 L325.00,417.00 L324.70,420.00 L323.60,423.00 L322.80,426.10 L323.30,429.00 L323.70,431.70 L321.10,433.30 L320.00,435.00 L319.70,441.50 L318.80,443.00 L316.10,444.50 L312.60,446.00 L311.00,448.00 L310.80,450.00 L311.40,452.00 L313.60,453.50 L316.60,455.00 L319.10,456.50 L321.10,458.00 L322.20,459.50 L322.50,462.00 L323.00,465.00 L323.70,468.00 L324.00,471.00 L323.50,474.00 L323.00,477.00 L324.00,480.00 L325.60,482.60 L325.60,482.60 L327.20,480.00 L328.20,477.00 L327.70,474.00 L327.20,471.00 L327.50,468.00 L328.20,465.00 L328.70,462.00 L329.00,459.50 L330.10,458.00 L332.10,456.50 L334.60,455.00 L337.60,453.50 L339.80,452.00 L340.40,450.00 L340.20,448.00 L338.60,446.00 L335.10,444.50 L332.40,443.00 L331.50,441.50 L331.20,435.00 L330.10,433.30 L327.50,431.70 L327.90,429.00 L328.40,426.10 L327.60,423.00 L326.50,420.00 L326.20,417.00 L326.60,415.50 L326.20,414.00 L325.60,412.20Z" fill="url(#vg13)"/>
<clipPath id="cvg13"><path d="M325.60,412.20 L325.00,414.00 L324.60,415.50 L325.00,417.00 L324.70,420.00 L323.60,423.00 L322.80,426.10 L323.30,429.00 L323.70,431.70 L321.10,433.30 L320.00,435.00 L319.70,441.50 L318.80,443.00 L316.10,444.50 L312.60,446.00 L311.00,448.00 L310.80,450.00 L311.40,452.00 L313.60,453.50 L316.60,455.00 L319.10,456.50 L321.10,458.00 L322.20,459.50 L322.50,462.00 L323.00,465.00 L323.70,468.00 L324.00,471.00 L323.50,474.00 L323.00,477.00 L324.00,480.00 L325.60,482.60 L325.60,482.60 L327.20,480.00 L328.20,477.00 L327.70,474.00 L327.20,471.00 L327.50,468.00 L328.20,465.00 L328.70,462.00 L329.00,459.50 L330.10,458.00 L332.10,456.50 L334.60,455.00 L337.60,453.50 L339.80,452.00 L340.40,450.00 L340.20,448.00 L338.60,446.00 L335.10,444.50 L332.40,443.00 L331.50,441.50 L331.20,435.00 L330.10,433.30 L327.50,431.70 L327.90,429.00 L328.40,426.10 L327.60,423.00 L326.50,420.00 L326.20,417.00 L326.60,415.50 L326.20,414.00 L325.60,412.20Z"/></clipPath><g clip-path="url(#cvg13)">
<ellipse cx="325.60" cy="449.40" rx="14.0" ry="2.9" fill="#880000"/>
</g>
<defs><linearGradient id="vg14" gradientUnits="userSpaceOnUse" x1="0" y1="410.4" x2="0" y2="480.7"><stop offset="0.0000" stop-color="#1a36d8"/><stop offset="0.2077" stop-color="#1a36d8"/><stop offset="0.2077" stop-color="#3a86f2"/><stop offset="0.2432" stop-color="#3a86f2"/><stop offset="0.2432" stop-color="#48e4f4"/><stop offset="0.3001" stop-color="#48e4f4"/><stop offset="0.3001" stop-color="#8cf07a"/><stop offset="0.3286" stop-color="#8cf07a"/><stop offset="0.3286" stop-color="#f6ee10"/><stop offset="0.3499" stop-color="#f6ee10"/><stop offset="0.3499" stop-color="#ff9a00"/><stop offset="0.3670" stop-color="#ff9a00"/><stop offset="0.3670" stop-color="#ff1a00"/><stop offset="0.4424" stop-color="#ff1a00"/><stop offset="0.4424" stop-color="#ff9a00"/><stop offset="0.4566" stop-color="#ff9a00"/><stop offset="0.4566" stop-color="#ffd400"/><stop offset="0.5064" stop-color="#ffd400"/><stop offset="0.5064" stop-color="#ffb400"/><stop offset="0.5491" stop-color="#ffb400"/><stop offset="0.5491" stop-color="#ffa000"/><stop offset="0.6415" stop-color="#ffa000"/><stop offset="0.6415" stop-color="#ffb000"/><stop offset="0.6828" stop-color="#ffb000"/><stop offset="0.6828" stop-color="#f6ee10"/><stop offset="0.7112" stop-color="#f6ee10"/><stop offset="0.7112" stop-color="#8cf07a"/><stop offset="0.7397" stop-color="#8cf07a"/><stop offset="0.7397" stop-color="#48e4f4"/><stop offset="0.7838" stop-color="#48e4f4"/><stop offset="0.7838" stop-color="#3a86f2"/><stop offset="0.8122" stop-color="#3a86f2"/><stop offset="0.8122" stop-color="#1a36d8"/><stop offset="1.0000" stop-color="#1a36d8"/></linearGradient></defs><path d="M359.30,410.40 L358.30,415.00 L357.30,420.00 L356.50,424.00 L355.90,427.00 L355.10,429.50 L354.10,431.70 L351.80,433.50 L349.00,435.00 L347.70,436.80 L347.40,439.00 L347.90,441.20 L348.70,442.60 L348.80,447.00 L348.50,452.00 L348.70,458.00 L349.70,460.00 L351.10,461.70 L352.80,463.50 L354.30,465.50 L355.70,468.00 L356.90,472.00 L357.90,476.00 L359.30,480.70 L359.30,480.70 L360.70,476.00 L361.70,472.00 L362.90,468.00 L364.30,465.50 L365.80,463.50 L367.50,461.70 L368.90,460.00 L369.90,458.00 L370.10,452.00 L369.80,447.00 L369.90,442.60 L370.70,441.20 L371.20,439.00 L370.90,436.80 L369.60,435.00 L366.80,433.50 L364.50,431.70 L363.50,429.50 L362.70,427.00 L362.10,424.00 L361.30,420.00 L360.30,415.00 L359.30,410.40Z" fill="url(#vg14)"/>
<text transform="translate(206.60,453.80) rotate(-90) scale(0.9259,1)" font-size="8.64" text-anchor="middle" >TNF&#945; Expression</text>
<text transform="translate(296.90,454.00) rotate(-90) scale(0.9259,1)" font-size="8.64" text-anchor="middle" >IL1&#946; Expression</text>
</svg>
</body></html>
